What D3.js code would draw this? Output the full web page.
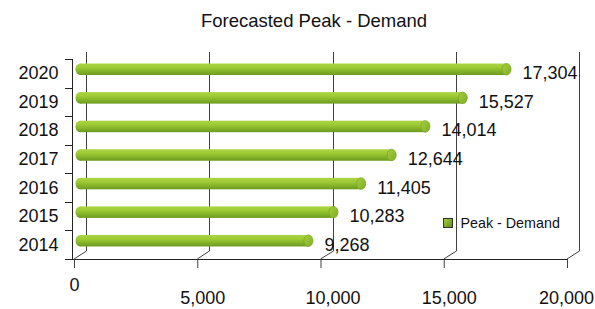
<!DOCTYPE html>
<html>
<head>
<meta charset="utf-8">
<script src="https://cdn.jsdelivr.net/npm/d3@7"></script>
<style>
  body { margin:0; background:#fff; }
  svg { display:block; font-family:"Liberation Sans", Arial, sans-serif; }
</style>
</head>
<body>
<svg id="chart"></svg>
<script>
// data
var years = ["2014","2015","2016","2017","2018","2019","2020"];
var demand = [9268, 10283, 11405, 12644, 14014, 15527, 17304];
var xTicks = [0, 5000, 10000, 15000, 20000];
var seriesName = "Peak - Demand";
var title = "Forecasted Peak - Demand";

var screen = {width:595, height:309};
// depth of the 3d box
var depth = {dx:12, dy:-8};

var svg = d3.select("#chart")
    .attr("width", screen.width)
    .attr("height", screen.height);

var xScale = d3.scaleLinear()
    .domain([0, 20000])
    .range([74, 567]);

var yScale = d3.scaleBand()
    .domain(years.slice().reverse())
    .range([59, 259]);

var fmt = d3.format(",");

// gradients for the cylinder bars
var defs = svg.append("defs");
var grad = defs.append("linearGradient")
    .attr("id", "barGrad")
    .attr("x1", 0).attr("y1", 0).attr("x2", 0).attr("y2", 1);
grad.append("stop").attr("offset", "0%").attr("stop-color", "#acd443");
grad.append("stop").attr("offset", "35%").attr("stop-color", "#9ecb34");
grad.append("stop").attr("offset", "100%").attr("stop-color", "#6b9a1f");

var capGrad = defs.append("linearGradient")
    .attr("id", "capGrad")
    .attr("x1", 0).attr("y1", 0).attr("x2", 1).attr("y2", 1);
capGrad.append("stop").attr("offset", "0%").attr("stop-color", "#a6cf3c");
capGrad.append("stop").attr("offset", "100%").attr("stop-color", "#80ad28");

var legGrad = defs.append("linearGradient")
    .attr("id", "legGrad")
    .attr("x1", 0).attr("y1", 0).attr("x2", 1).attr("y2", 1);
legGrad.append("stop").attr("offset", "0%").attr("stop-color", "#a6d040");
legGrad.append("stop").attr("offset", "100%").attr("stop-color", "#5f8c1a");

// title
svg.append("text")
    .attr("x", 314)
    .attr("y", 20)
    .attr("text-anchor", "middle")
    .attr("dominant-baseline", "central")
    .style("font-size", "18.5px")
    .style("fill", "#111")
    .text(title);

var gridColor = "#404040";
var baseY = yScale.range()[1];
var topY = 52;

// back wall gridlines + floor diagonals
var grid = svg.append("g").attr("stroke", gridColor).attr("stroke-width", 1).attr("fill", "none");
grid.selectAll(".back")
    .data(xTicks)
    .enter()
    .append("line")
    .attr("x1", function(d){ return Math.round(xScale(d) + depth.dx) + 0.5; })
    .attr("x2", function(d){ return Math.round(xScale(d) + depth.dx) + 0.5; })
    .attr("y1", baseY + depth.dy)
    .attr("y2", topY);
grid.selectAll(".diag")
    .data(xTicks)
    .enter()
    .append("line")
    .attr("x1", function(d){ return xScale(d); })
    .attr("y1", baseY)
    .attr("x2", function(d){ return Math.round(xScale(d) + depth.dx) + 0.5; })
    .attr("y2", baseY + depth.dy);

// x axis on the front edge
var xAxis = d3.axisBottom(xScale)
    .tickValues(xTicks)
    .tickFormat(fmt)
    .tickSize(9)
    .tickSizeOuter(0);
var xg = svg.append("g")
    .attr("transform", "translate(0," + baseY + ")")
    .call(xAxis);
xg.select(".domain").attr("stroke", "#222").attr("d", "M72,0.5H" + xScale(20000));
xg.selectAll(".tick line").attr("stroke", gridColor);
// the first label sits higher, the last is pulled in from the edge
xg.selectAll(".tick text")
    .style("font-size", "18px")
    .style("fill", "#111")
    .style("font-family", "\"Liberation Sans\", Arial, sans-serif")
    .attr("dy", null)
    .attr("dominant-baseline", "central")
    .attr("x", function(d, i){ return i === 0 ? 0 : (i === xTicks.length - 1 ? -1 : (i === 2 ? 12 : 5)); })
    .attr("y", function(d, i){ return i === 0 ? 26 : 39; });

// y axis on the left
var yLeft = 72;
var yg = svg.append("g").attr("stroke", "#222").attr("stroke-width", 1);
yg.append("line")
    .attr("x1", yLeft + 0.5).attr("x2", yLeft + 0.5)
    .attr("y1", yScale.range()[0]).attr("y2", baseY);
var edges = yScale.domain().map(function(d){ return yScale(d); });
edges.push(baseY);
yg.selectAll(".ytick")
    .data(edges)
    .enter()
    .append("line")
    .attr("x1", yLeft - 7).attr("x2", yLeft + 0.5)
    .attr("y1", function(d){ return Math.round(d) + 0.5; })
    .attr("y2", function(d){ return Math.round(d) + 0.5; });

svg.append("g")
    .selectAll("text")
    .data(years)
    .enter()
    .append("text")
    .attr("x", 58.5)
    .attr("y", function(d){ return yScale(d) + yScale.bandwidth() / 2; })
    .attr("text-anchor", "end")
    .attr("dominant-baseline", "central")
    .style("font-size", "18px")
    .style("fill", "#111")
    .text(function(d){ return d; });

// cylinder bars, drawn in the middle of the depth
var barH = 11.5;
var capRx = 4.5;
var rows = years.map(function(y, i){ return {year:y, value:demand[i]}; });
var midX = function(v){ return xScale(v) + depth.dx / 2; };
var midY = function(y){ return yScale(y) + yScale.bandwidth() / 2 + depth.dy / 2; };

var bars = svg.append("g")
    .selectAll("g")
    .data(rows)
    .enter()
    .append("g");

bars.append("ellipse")
    .attr("cx", midX(0))
    .attr("cy", function(d){ return midY(d.year); })
    .attr("rx", capRx)
    .attr("ry", barH / 2)
    .attr("fill", "url(#barGrad)");
bars.append("rect")
    .attr("x", midX(0))
    .attr("y", function(d){ return midY(d.year) - barH / 2; })
    .attr("width", function(d){ return midX(d.value) - midX(0); })
    .attr("height", barH)
    .attr("fill", "url(#barGrad)");
bars.append("ellipse")
    .attr("cx", function(d){ return midX(d.value); })
    .attr("cy", function(d){ return midY(d.year); })
    .attr("rx", capRx)
    .attr("ry", barH / 2)
    .attr("fill", "url(#capGrad)")
    .attr("stroke", "#7aa826")
    .attr("stroke-width", 0.8);

// value labels
svg.append("g")
    .selectAll("text")
    .data(rows)
    .enter()
    .append("text")
    .attr("x", function(d){ return midX(d.value) + 16; })
    .attr("y", function(d){ return yScale(d.year) + yScale.bandwidth() / 2; })
    .attr("dominant-baseline", "central")
    .style("font-size", "18px")
    .style("fill", "#111")
    .text(function(d){ return fmt(d.value); });

// legend
var leg = svg.append("g").attr("transform", "translate(443.5,218.5)");
leg.append("rect")
    .attr("width", 9)
    .attr("height", 9)
    .attr("fill", "url(#legGrad)")
    .attr("stroke", "#333")
    .attr("stroke-width", 1);
leg.append("text")
    .attr("x", 17)
    .attr("y", 4.5)
    .attr("dominant-baseline", "central")
    .style("font-size", "14.3px")
    .style("fill", "#111")
    .text(seriesName);
</script>
</body>
</html>
